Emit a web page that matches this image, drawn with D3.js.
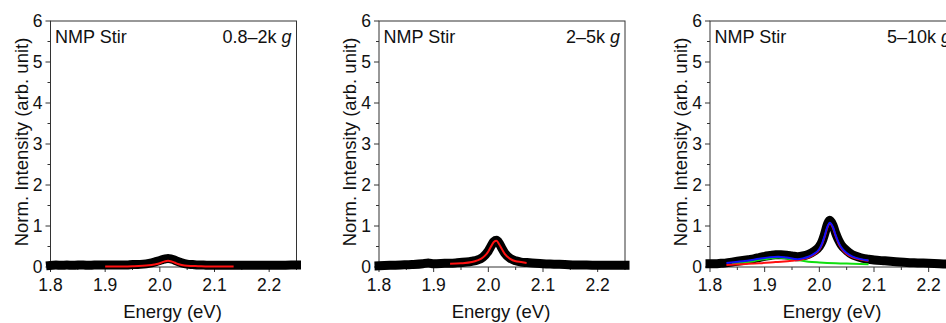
<!DOCTYPE html>
<html>
<head>
<meta charset="utf-8">
<script src="https://cdn.jsdelivr.net/npm/d3@7"></script>
<style>
  html, body { margin: 0; padding: 0; background: #fff; }
  svg { display: block; font-family: "Liberation Sans", Arial, sans-serif; }
  .tick-label { font-size: 17.5px; fill: #111; }
  .axis-title { font-size: 18.5px; fill: #111; }
  .tag { font-size: 18px; fill: #111; }
</style>
</head>
<body>
<svg id="chart" width="946" height="323"></svg>
<script>
// panel tags (left = sample, right = centrifugation range)
const sampleNames = ["NMP Stir", "NMP Stir", "NMP Stir"];
const speedRanges = ["0.8\u20132k", "2\u20135k", "5\u201310k"];

const xTicks = [1.8, 1.9, 2.0, 2.1, 2.2];
const yTicks = [0, 1, 2, 3, 4, 5, 6];

// measured PL spectra (black), [energy eV, norm. intensity]
const data1 = [
  [1.80, 0.04], [1.81, 0.05], [1.82, 0.04], [1.83, 0.05], [1.84, 0.04], [1.85, 0.05],
  [1.86, 0.05], [1.87, 0.04], [1.88, 0.05], [1.89, 0.05], [1.90, 0.05], [1.92, 0.05],
  [1.94, 0.05], [1.95, 0.06], [1.96, 0.06], [1.97, 0.07], [1.98, 0.09], [1.99, 0.12],
  [2.00, 0.16], [2.005, 0.18], [2.01, 0.20], [2.015, 0.21], [2.02, 0.20], [2.025, 0.18],
  [2.03, 0.15], [2.04, 0.10], [2.05, 0.07], [2.06, 0.06], [2.07, 0.05], [2.08, 0.05],
  [2.09, 0.04], [2.10, 0.04], [2.12, 0.04], [2.14, 0.04], [2.16, 0.04], [2.18, 0.04],
  [2.20, 0.04], [2.22, 0.04], [2.24, 0.05], [2.25, 0.05]
];
const data2 = [
  [1.80, 0.03], [1.82, 0.04], [1.84, 0.05], [1.86, 0.06], [1.88, 0.08], [1.89, 0.10],
  [1.90, 0.08], [1.92, 0.09], [1.94, 0.10], [1.96, 0.12], [1.97, 0.14], [1.98, 0.17],
  [1.99, 0.24], [2.00, 0.39], [2.005, 0.51], [2.01, 0.62], [2.015, 0.65], [2.02, 0.58],
  [2.025, 0.45], [2.03, 0.34], [2.04, 0.21], [2.05, 0.15], [2.06, 0.12], [2.07, 0.11],
  [2.08, 0.10], [2.10, 0.08], [2.12, 0.07], [2.14, 0.06], [2.16, 0.05], [2.18, 0.05],
  [2.20, 0.04], [2.22, 0.04], [2.25, 0.04]
];
const data3 = [
  [1.80, 0.08], [1.81, 0.08], [1.82, 0.09], [1.83, 0.10], [1.84, 0.12], [1.85, 0.14],
  [1.86, 0.16], [1.87, 0.18], [1.88, 0.20], [1.89, 0.23], [1.90, 0.26], [1.91, 0.28],
  [1.92, 0.30], [1.93, 0.30], [1.94, 0.29], [1.95, 0.27], [1.96, 0.25], [1.97, 0.27],
  [1.98, 0.31], [1.99, 0.38], [2.00, 0.50], [2.005, 0.62], [2.01, 0.82], [2.015, 1.05],
  [2.019, 1.14], [2.025, 1.02], [2.03, 0.82], [2.035, 0.66], [2.04, 0.54], [2.05, 0.40],
  [2.06, 0.30], [2.07, 0.25], [2.08, 0.21], [2.09, 0.19], [2.10, 0.17], [2.12, 0.15],
  [2.14, 0.13], [2.16, 0.11], [2.18, 0.10], [2.20, 0.09], [2.22, 0.08], [2.24, 0.07],
  [2.25, 0.07]
];

// Lorentzian fits
const fitRed1 = [
  [1.90, 0.01], [1.95, 0.02], [1.98, 0.04], [1.99, 0.06], [2.00, 0.09], [2.005, 0.12],
  [2.01, 0.14], [2.015, 0.15], [2.02, 0.14], [2.025, 0.12], [2.03, 0.09], [2.04, 0.05],
  [2.05, 0.03], [2.07, 0.02], [2.10, 0.01], [2.135, 0.01]
];
const fitRed2 = [
  [1.93, 0.08], [1.95, 0.09], [1.97, 0.12], [1.98, 0.16], [1.99, 0.23], [2.00, 0.38],
  [2.005, 0.50], [2.01, 0.61], [2.015, 0.64], [2.02, 0.55], [2.025, 0.43], [2.03, 0.32],
  [2.04, 0.20], [2.05, 0.14], [2.06, 0.12], [2.07, 0.10]
];
const fitRed3 = [
  [1.83, 0.05], [1.86, 0.07], [1.89, 0.09], [1.92, 0.12], [1.95, 0.15], [1.97, 0.19],
  [1.98, 0.23], [1.99, 0.30], [2.00, 0.42], [2.005, 0.55], [2.01, 0.75], [2.015, 0.97],
  [2.019, 1.06], [2.025, 0.95], [2.03, 0.75], [2.035, 0.58], [2.04, 0.46], [2.05, 0.32],
  [2.06, 0.24], [2.07, 0.20], [2.08, 0.17], [2.09, 0.15]
];
const fitGreen3 = [
  [1.84, 0.08], [1.87, 0.12], [1.89, 0.17], [1.91, 0.21], [1.925, 0.23], [1.94, 0.21],
  [1.96, 0.17], [1.98, 0.13], [2.00, 0.11], [2.03, 0.09], [2.06, 0.08], [2.09, 0.07]
];
const fitBlue3 = [
  [1.83, 0.10], [1.86, 0.14], [1.89, 0.20], [1.91, 0.24], [1.925, 0.25], [1.94, 0.23],
  [1.96, 0.19], [1.97, 0.21], [1.98, 0.25], [1.99, 0.32], [2.00, 0.44], [2.005, 0.57],
  [2.01, 0.77], [2.015, 0.99], [2.019, 1.08], [2.025, 0.97], [2.03, 0.77], [2.035, 0.60],
  [2.04, 0.48], [2.05, 0.34], [2.06, 0.26], [2.07, 0.21], [2.08, 0.18], [2.09, 0.16]
];

const panels = [
  { data: data1, fits: [{ pts: fitRed1, color: "#ff1010" }] },
  { data: data2, fits: [{ pts: fitRed2, color: "#ff1010" }] },
  { data: data3, fits: [
      { pts: fitGreen3, color: "#10e010" },
      { pts: fitRed3, color: "#ff1010" },
      { pts: fitBlue3, color: "#1010ff" }
    ] }
];

const svg = d3.select("#chart");
const lefts = [50.5, 379, 710];
const plotW = 246;
const plotTop = 21, plotBottom = 267;

panels.forEach((p, i) => {
  const x = d3.scaleLinear().domain([1.8, 2.25]).range([lefts[i], lefts[i] + plotW]);
  const y = d3.scaleLinear().domain([0, 6]).range([plotBottom, plotTop]);
  const g = svg.append("g");

  // frame
  g.append("rect")
    .attr("x", x(1.8)).attr("y", y(6))
    .attr("width", plotW).attr("height", plotBottom - plotTop)
    .attr("fill", "none").attr("stroke", "#333").attr("stroke-width", 1);

  // y axis ticks (major + minor, outward)
  const yMinor = d3.range(0.5, 6, 1);
  g.selectAll(".ymaj").data(yTicks).join("line")
    .attr("x1", x(1.8) - 5).attr("x2", x(1.8))
    .attr("y1", d => y(d)).attr("y2", d => y(d))
    .attr("stroke", "#333");
  g.selectAll(".ymin").data(yMinor).join("line")
    .attr("x1", x(1.8) - 3).attr("x2", x(1.8))
    .attr("y1", d => y(d)).attr("y2", d => y(d))
    .attr("stroke", "#333");
  g.selectAll(".ylab").data(yTicks).join("text")
    .attr("class", "tick-label")
    .attr("x", x(1.8) - 8).attr("y", d => y(d))
    .attr("dy", "0.33em").attr("text-anchor", "end")
    .text(d => d);

  // x axis ticks
  const xMinor = [1.85, 1.95, 2.05, 2.15, 2.25];
  g.selectAll(".xmaj").data(xTicks).join("line")
    .attr("x1", d => x(d)).attr("x2", d => x(d))
    .attr("y1", plotBottom).attr("y2", plotBottom + 5)
    .attr("stroke", "#333");
  g.selectAll(".xmin").data(xMinor).join("line")
    .attr("x1", d => x(d)).attr("x2", d => x(d))
    .attr("y1", plotBottom).attr("y2", plotBottom + 3)
    .attr("stroke", "#333");
  g.selectAll(".xlab").data(xTicks).join("text")
    .attr("class", "tick-label")
    .attr("x", d => x(d)).attr("y", plotBottom + 23.5)
    .attr("text-anchor", "middle")
    .text(d => d.toFixed(1));

  // axis titles
  g.append("text")
    .attr("class", "axis-title")
    .attr("x", (x(1.8) + x(2.25)) / 2 - 1).attr("y", 318)
    .attr("text-anchor", "middle")
    .text("Energy (eV)");
  g.append("text")
    .attr("class", "axis-title")
    .attr("transform", `translate(${x(1.8) - 23},${(plotTop + plotBottom) / 2 - 2}) rotate(-90)`)
    .attr("text-anchor", "middle")
    .text("Norm. Intensity (arb. unit)");

  // tags
  g.append("text")
    .attr("class", "tag")
    .attr("x", x(1.8) + 4.5).attr("y", 43)
    .text(sampleNames[i]);
  const tag = g.append("text")
    .attr("class", "tag")
    .attr("x", x(2.25) - 5).attr("y", 43)
    .attr("text-anchor", "end");
  tag.append("tspan").text(speedRanges[i] + " ");
  tag.append("tspan").attr("font-style", "italic").text("g");

  const line = d3.line().x(d => x(d[0])).y(d => y(d[1])).curve(d3.curveMonotoneX);

  // measured data: dense black markers form a thick band
  g.append("path")
    .attr("d", line(p.data))
    .attr("fill", "none").attr("stroke", "#000")
    .attr("stroke-width", 9).attr("stroke-linejoin", "round")
    .attr("stroke-linecap", "square");

  p.fits.forEach(f => {
    g.append("path")
      .attr("d", line(f.pts))
      .attr("fill", "none").attr("stroke", f.color)
      .attr("stroke-width", 2);
  });
});
</script>
</body>
</html>
